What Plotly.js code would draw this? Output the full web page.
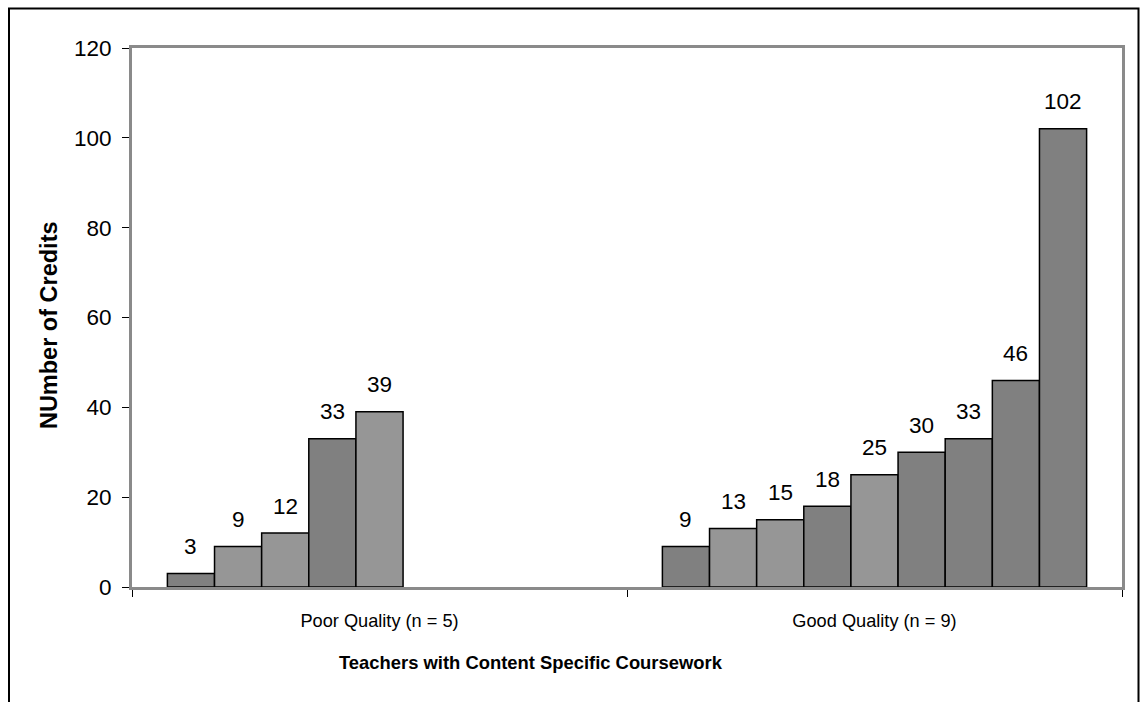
<!DOCTYPE html>
<html>
<head>
<meta charset="utf-8">
<script src="https://cdn.plot.ly/plotly-3.0.1.min.js"></script>
<style>
  html, body { margin: 0; padding: 0; background: #ffffff; }
  #chart { width: 1141px; height: 702px; }
</style>
</head>
<body>
<div id="chart"></div>
<script>
// ---- data ----
const categories = ['Poor Quality (n = 5)', 'Good Quality (n = 9)'];
const poorValues = [3, 9, 12, 33, 39];
const goodValues = [9, 13, 15, 18, 25, 30, 33, 46, 102];
const poorShades = ['dark', 'light', 'light', 'dark', 'light'];
const goodShades = ['dark', 'light', 'light', 'dark', 'light', 'dark', 'dark', 'dark', 'dark'];
const yTickValues = [0, 20, 40, 60, 80, 100, 120];
const yTitle = 'NUmber of Credits';
const xTitle = 'Teachers with Content Specific Coursework';

// ---- styling ----
const shadeColor = { dark: '#808080', light: '#969696' };
const FONT = 'Liberation Sans, Arial, sans-serif';
const BARGAP = 0.143;
const nSeries = Math.max(poorValues.length, goodValues.length);

const traces = [];
const annotations = [];
const barW = (1 - BARGAP) / nSeries;
for (let j = 0; j < nSeries; j++) {
  const pv = j < poorValues.length ? poorValues[j] : null;
  const gv = j < goodValues.length ? goodValues[j] : null;
  const pc = j < poorShades.length ? shadeColor[poorShades[j]] : '#808080';
  const gc = j < goodShades.length ? shadeColor[goodShades[j]] : '#808080';
  traces.push({
    type: 'bar',
    x: categories,
    y: [pv, gv],
    marker: { color: [pc, gc], line: { color: '#000000', width: 1.5 } },
    showlegend: false,
    hoverinfo: 'skip'
  });
  [pv, gv].forEach((v, ci) => {
    if (v === null) return;
    annotations.push({
      xref: 'x', yref: 'y',
      x: ci - (1 - BARGAP) / 2 + (j + 0.5) * barW,
      y: v,
      text: String(v),
      showarrow: false,
      yanchor: 'middle',
      yshift: 27,
      font: { family: FONT, size: 22.5, color: '#000000' }
    });
  });
}

annotations.push({
  xref: 'paper', yref: 'paper',
  x: -0.0838, y: 0.486,
  text: '<b>' + yTitle + '</b>',
  textangle: -90,
  showarrow: false,
  xanchor: 'center', yanchor: 'middle',
  font: { family: FONT, size: 23.5, color: '#000000' }
});
annotations.push({
  xref: 'paper', yref: 'paper',
  x: 0.403, y: -0.141,
  text: '<b>' + xTitle + '</b>',
  showarrow: false,
  xanchor: 'center', yanchor: 'middle',
  font: { family: FONT, size: 18.4, color: '#000000' }
});

const layout = {
  width: 1141,
  height: 702,
  margin: { l: 132, r: 19, t: 48, b: 115, pad: 0 },
  paper_bgcolor: '#ffffff',
  plot_bgcolor: '#ffffff',
  barmode: 'group',
  bargap: BARGAP,
  bargroupgap: 0,
  font: { family: FONT, color: '#000000' },
  xaxis: {
    type: 'category',
    showgrid: false,
    showline: true,
    mirror: true,
    linecolor: '#8a8a8a',
    linewidth: 3,
    ticks: 'outside',
    tickson: 'boundaries',
    ticklen: 7,
    tickcolor: '#000000',
    tickwidth: 1,
    ticklabelstandoff: 15,
    tickfont: { family: FONT, size: 18.2, color: '#000000' },
    fixedrange: true
  },
  yaxis: {
    range: [0, 120],
    tickvals: yTickValues,
    ticktext: yTickValues.map(String),
    showgrid: false,
    zeroline: false,
    showline: true,
    mirror: true,
    linecolor: '#8a8a8a',
    linewidth: 3,
    ticks: 'outside',
    ticklen: 7,
    tickcolor: '#000000',
    tickwidth: 1,
    ticklabelstandoff: 6,
    tickfont: { family: FONT, size: 22.5, color: '#000000' },
    fixedrange: true
  },
  annotations: annotations,
  shapes: [{
    type: 'rect', xref: 'paper', yref: 'paper',
    x0: -0.12424, x1: 1.01667, y0: -0.3, y1: 1.07329,
    line: { color: '#000000', width: 2 },
    fillcolor: 'rgba(0,0,0,0)'
  }]
};

Plotly.newPlot('chart', traces, layout, { staticPlot: true, displayModeBar: false });
</script>
</body>
</html>
